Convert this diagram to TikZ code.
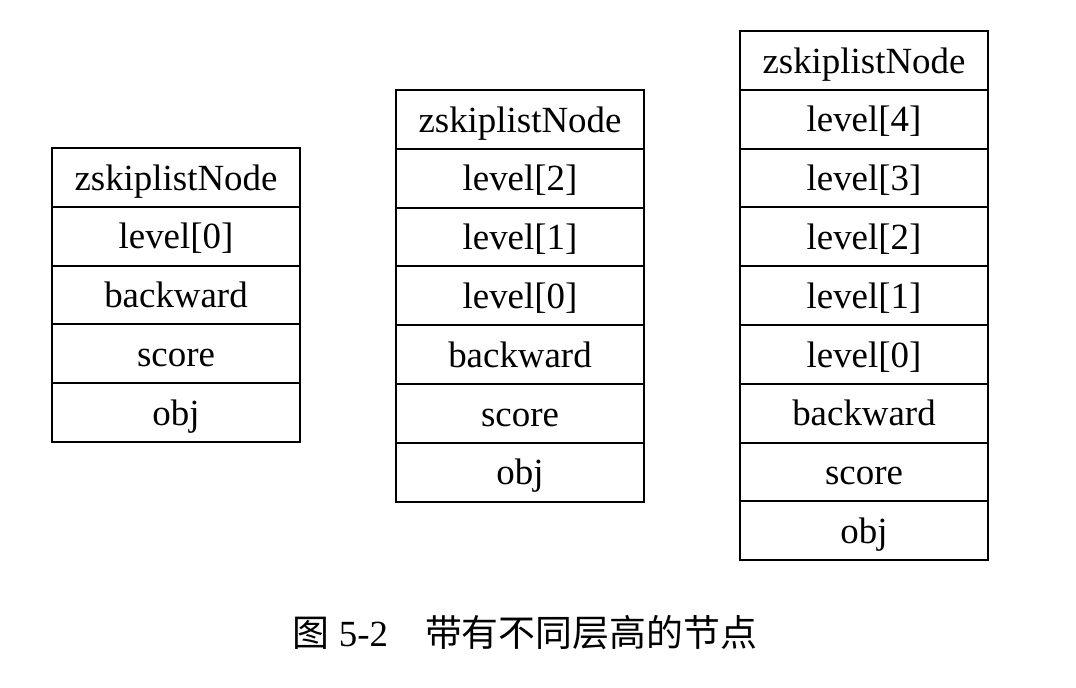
\documentclass[tikz,border=0pt]{standalone}
\usepackage{fontspec}
\setmainfont{Liberation Serif}
\newfontfamily\cjk{Noto Sans CJK SC}
\begin{document}
\begin{tikzpicture}[
    cell/.style={draw, line width=0.6pt, minimum width=2.48cm, minimum height=0.588cm,
                 inner sep=0pt, text height=0.86em, text depth=0.14em,
                 font=\fontsize{10.5}{12}\selectfont}]
    \useasboundingbox (0,0) rectangle (10.76,6.88);
%    node with one level
    \node[cell](a-head)   at (1.76,5.106) {zskiplistNode};
    \node[cell](a-l0)     at (1.76,4.518) {level[0]};
    \node[cell](a-back)   at (1.76,3.930) {backward};
    \node[cell](a-score)  at (1.76,3.342) {score};
    \node[cell](a-obj)    at (1.76,2.754) {obj};

%    node with three levels
    \node[cell](b-head)   at (5.20,5.686) {zskiplistNode};
    \node[cell](b-l2)     at (5.20,5.098) {level[2]};
    \node[cell](b-l1)     at (5.20,4.510) {level[1]};
    \node[cell](b-l0)     at (5.20,3.922) {level[0]};
    \node[cell](b-back)   at (5.20,3.334) {backward};
    \node[cell](b-score)  at (5.20,2.746) {score};
    \node[cell](b-obj)    at (5.20,2.158) {obj};

%    node with five levels
    \node[cell](c-head)   at (8.64,6.276) {zskiplistNode};
    \node[cell](c-l4)     at (8.64,5.688) {level[4]};
    \node[cell](c-l3)     at (8.64,5.100) {level[3]};
    \node[cell](c-l2)     at (8.64,4.512) {level[2]};
    \node[cell](c-l1)     at (8.64,3.924) {level[1]};
    \node[cell](c-l0)     at (8.64,3.336) {level[0]};
    \node[cell](c-back)   at (8.64,2.748) {backward};
    \node[cell](c-score)  at (8.64,2.160) {score};
    \node[cell](c-obj)    at (8.64,1.572) {obj};

    \node[font=\fontsize{10.5}{12}\selectfont](caption) at (5.25,0.55)
        {{\cjk 图} 5-2\quad{\cjk 带有不同层高的节点}};
    \end{tikzpicture}
\end{document}
